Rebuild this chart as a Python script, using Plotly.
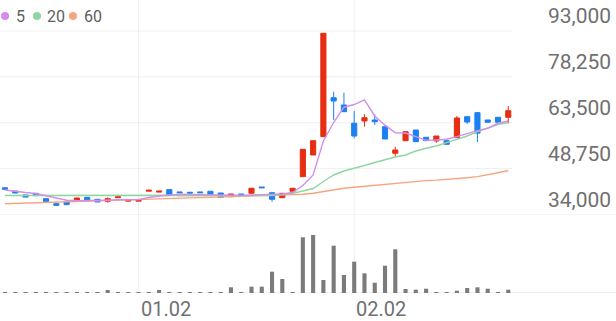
import plotly.graph_objects as go

# ---------------- data ----------------
idx = list(range(50))
opens = [42600, 41500, 40300, 40800, 39100, 37480, 38020, 38670, 39530, 38890,
         38250, 39400, 38300, 38300, 41500, 41200, 42000, 41250, 41150, 41250,
         41460, 40920, 39730, 40600, 40820, 42850, 41010, 39400, 41470, 46160,
         53130, 59020, 71560, 69210, 63330, 64070, 64390, 62230, 53680, 57730,
         61170, 58830, 57640, 57730, 58700, 65450, 66730, 64390, 65260, 65260]
highs = [42700, 41600, 40300, 40900, 39100, 37800, 38020, 39310, 39530, 38890,
         39530, 39800, 38600, 38600, 41800, 41500, 42000, 41250, 41150, 41250,
         41460, 40920, 40600, 40600, 42430, 42850, 41100, 40820, 42430, 54970,
         57730, 92260, 73490, 73160, 67280, 66220, 66220, 62230, 55800, 60630,
         61170, 58830, 59240, 57730, 65670, 65450, 67000, 64390, 65260, 68890]
lows = [42000, 40900, 39600, 40050, 38100, 36740, 37160, 38670, 38440, 38020,
        37800, 39400, 38300, 38300, 41500, 41200, 40270, 41000, 40900, 41000,
        40370, 39530, 39730, 40350, 40820, 42600, 38120, 39400, 41470, 46160,
        53130, 59020, 64390, 67060, 58500, 62230, 62780, 58200, 52590, 57730,
        57410, 57730, 57090, 56570, 58700, 63100, 57310, 63650, 63650, 63330]
closes = [42100, 40900, 39600, 40050, 38100, 36960, 37160, 39310, 38440, 38020,
          39090, 39700, 38600, 38600, 41800, 41500, 40300, 41000, 40900, 41000,
          40370, 39530, 40600, 40350, 42430, 42600, 38890, 40820, 42430, 54970,
          57730, 92260, 70500, 67060, 59240, 65130, 63840, 58280, 54740, 60630,
          57410, 57730, 59240, 56570, 65030, 63740, 60170, 63650, 63650, 67380]
volumes = [1000, 1000, 1000, 1000, 1000, 1000, 1000, 1000, 1000, 1000,
           30000, 1000, 1000, 1000, 1000, 30000, 1000, 1000, 1000, 1000,
           1000, 1000, 57000, 1000, 63000, 63000, 213000, 140000, 2000, 557000,
           580000, 130000, 473000, 180000, 313000, 197000, 103000, 273000, 437000, 40000,
           33000, 43000, 7000, 7000, 23000, 50000, 57000, 43000, 10000, 33000]
ma5 = [41880, 41400, 41080, 40760, 40110, 39310, 38570, 38410, 38410, 38510,
       38600, 38730, 38770, 38770, 39470, 39950, 40180, 40530, 40430, 40340,
       40270, 40180, 40110, 40110, 40270, 40430, 40430, 40590, 41080, 43330,
       46700, 57630, 63570, 68500, 69360, 70840, 65670, 62720, 60260, 60210,
       59020, 57860, 57960, 58180, 59020, 60110, 60950, 61720, 63330, 64070]
ma20 = [40110, 40110, 40110, 40110, 40270, 40270, 40270, 40270, 40270, 40340,
        40340, 40340, 40340, 40340, 40180, 40180, 40180, 40020, 40020, 40020,
        40020, 40020, 40020, 40110, 40110, 40110, 40110, 40430, 40820, 41560,
        42360, 44610, 46700, 47990, 48790, 49760, 50720, 51690, 52490, 53130,
        54420, 55290, 56030, 57090, 58180, 59240, 60630, 61720, 62940, 63580]
ma60 = [37480, 37570, 37670, 37770, 37900, 38020, 38120, 38220, 38310, 38410,
        38510, 38600, 38730, 38830, 38920, 39020, 39150, 39250, 39340, 39440,
        39530, 39630, 39730, 39820, 39920, 40020, 40080, 40150, 40240, 40500,
        40820, 41400, 41950, 42430, 42780, 43100, 43420, 43750, 44070, 44390,
        44710, 44900, 45060, 45230, 45480, 45800, 46190, 46700, 47410, 48150]
price_ticks = [34000, 48750, 63500, 78250, 93000]
date_tick_idx = [13, 34]
date_tick_text = ["01.02", "02.02"]
ma_names = ["5", "20", "60"]

# ---------------- styles ----------------
UP = "#e62e12"
DOWN = "#1c80f0"
MA_COLORS = ["#d38ee9", "#8fd6a3", "#f8a47f"]
VOL = "#7b7b7b"
GRID = "#efefef"
TXT = "#707070"
FONT = "Roboto"

fig = go.Figure()

for vals, col in zip([ma60, ma20, ma5], [MA_COLORS[2], MA_COLORS[1], MA_COLORS[0]]):
    fig.add_trace(go.Scatter(x=idx, y=vals, mode="lines", line=dict(color=col, width=1.4),
                             yaxis="y", showlegend=False, hoverinfo="skip"))

fig.add_trace(go.Candlestick(
    x=idx, open=opens, high=highs, low=lows, close=closes,
    increasing=dict(line=dict(color=UP, width=1), fillcolor=UP),
    decreasing=dict(line=dict(color=DOWN, width=1), fillcolor=DOWN),
    whiskerwidth=0, yaxis="y", showlegend=False))

fig.add_trace(go.Bar(x=idx, y=volumes, marker=dict(color=VOL, line=dict(width=0)),
                     width=0.4, yaxis="y2", showlegend=False))

shapes = []
x_left, x_right = -0.487, 59.49
grid_end = 49.37
for v in price_ticks[1:]:
    shapes.append(dict(type="line", xref="x", yref="y", x0=x_left, x1=grid_end, y0=v, y1=v,
                       line=dict(color=GRID, width=1), layer="below"))
shapes.append(dict(type="line", xref="paper", yref="y", x0=0, x1=1, y0=price_ticks[0], y1=price_ticks[0],
                   line=dict(color="#ebebeb", width=1), layer="below"))
shapes.append(dict(type="line", xref="paper", yref="y2", x0=0, x1=1, y0=0, y1=0,
                   line=dict(color="#e2e2e2", width=1), layer="below"))
for xi in date_tick_idx:
    shapes.append(dict(type="line", xref="x", yref="paper", x0=xi, x1=xi, y0=0, y1=1,
                       line=dict(color=GRID, width=1), layer="below"))

# legend dots
leg_x = [5, 37, 73]
leg_tx = [14, 45, 82]
leg_y = 1 - 16 / 293
for cx, col in zip(leg_x, MA_COLORS):
    shapes.append(dict(type="circle", xref="paper", yref="paper", xsizemode="pixel", ysizemode="pixel",
                       xanchor=cx / 616, yanchor=leg_y, x0=-4, x1=4, y0=-4, y1=4,
                       fillcolor=col, line=dict(width=0)))

annotations = []
for tx, name in zip(leg_tx, ma_names):
    annotations.append(dict(xref="paper", yref="paper", x=tx / 616, y=leg_y, xanchor="left", yanchor="middle",
                            text=name, showarrow=False, font=dict(family=FONT, size=16, color="#606060")))
for v in price_ticks:
    annotations.append(dict(xref="paper", yref="y", x=1, y=v, xanchor="right", yanchor="bottom",
                            xshift=-3, yshift=1, text=f"{v:,}", showarrow=False,
                            font=dict(family=FONT, size=21, color=TXT)))
for xi, t in zip(date_tick_idx, date_tick_text):
    annotations.append(dict(xref="x", yref="paper", x=xi, y=0, xanchor="left", yanchor="top",
                            yshift=-2, text=t, showarrow=False,
                            font=dict(family=FONT, size=20, color=TXT)))

fig.update_layout(
    width=616, height=321,
    margin=dict(l=0, r=0, t=0, b=28),
    paper_bgcolor="white", plot_bgcolor="white",
    boxgap=0.5, boxgroupgap=0,
    xaxis=dict(range=[x_left, x_right], showgrid=False, zeroline=False, showticklabels=False,
               rangeslider=dict(visible=False), fixedrange=True),
    yaxis=dict(domain=[(293 - 214.5) / 293, 1], range=[34000, 102966.5], showgrid=False,
               zeroline=False, showticklabels=False),
    yaxis2=dict(domain=[0, 65 / 293], range=[0, 650000], showgrid=False, zeroline=False,
                showticklabels=False),
    shapes=shapes, annotations=annotations,
    showlegend=False, hovermode=False,
)

fig.write_html("out.html")
